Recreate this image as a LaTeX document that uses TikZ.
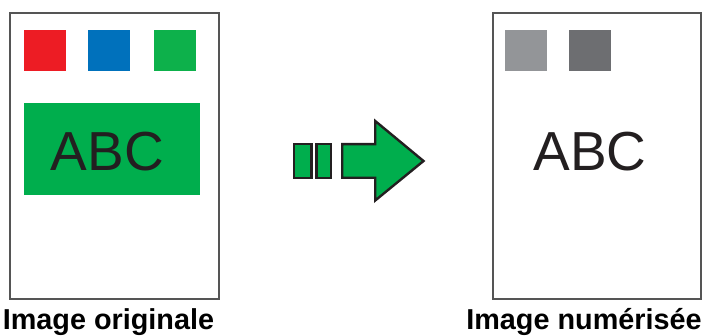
\documentclass[tikz,border=0pt]{standalone}
\usepackage{fontspec}
\setmainfont{Liberation Sans}
\definecolor{cred}{HTML}{ED1C24}
\definecolor{cblue}{HTML}{0071BC}
\definecolor{cgreen}{HTML}{0DB14B}
\definecolor{bgreen}{HTML}{00AE4D}
\definecolor{lgray}{HTML}{939598}
\definecolor{dgray}{HTML}{6D6E71}
\definecolor{ink}{HTML}{231F20}
\definecolor{frame}{HTML}{555555}
\begin{document}
\begin{tikzpicture}[x=1pt,y=-1pt,
  page/.style={draw=frame,line width=1.2pt,fill=white},
  swatch/.style={inner sep=0pt,minimum width=42pt,minimum height=41pt,anchor=north west},
  bigtext/.style={font=\fontsize{55}{58}\selectfont,text=ink,inner sep=0pt},
  caption/.style={font=\bfseries\fontsize{28.8}{30}\selectfont,text=black,inner sep=0pt,anchor=base},
  arrowpart/.style={draw=ink,line width=2.4pt,fill=bgreen,line join=miter}]
\useasboundingbox (0,0) rectangle (706,336);
% left page
\draw[page] (10,13) rectangle (219,299);
\node[swatch,fill=cred] (r) at (24,30) {};
\node[swatch,fill=cblue] (b) at (88,30) {};
\node[swatch,fill=cgreen] (g) at (154,30) {};
\node[inner sep=0pt,fill=bgreen,minimum width=176pt,minimum height=92pt,anchor=north west] (box) at (24,103) {};
\node[bigtext] (abc1) at (107.5,151.5) {ABC};
\node[caption] (cap1) at (108.5,330) {Image originale};
% arrow
\draw[arrowpart] (294.2,144.2) rectangle (311.6,177.8);
\draw[arrowpart] (316.4,144.2) rectangle (330.8,177.8);
\draw[arrowpart] (342.2,144.2) -- (375.2,144.2) -- (375.2,121) -- (423.5,161) -- (375.2,200.5) -- (375.2,177.8) -- (342.2,177.8) -- cycle;
% right page
\draw[page] (493,13) rectangle (701,299);
\node[swatch,fill=lgray] (g1) at (505,30) {};
\node[swatch,fill=dgray] (g2) at (569,30) {};
\node[bigtext] (abc2) at (590,151.5) {ABC};
\node[caption] (cap2) at (584,330) {Image numérisée};
\end{tikzpicture}
\end{document}
